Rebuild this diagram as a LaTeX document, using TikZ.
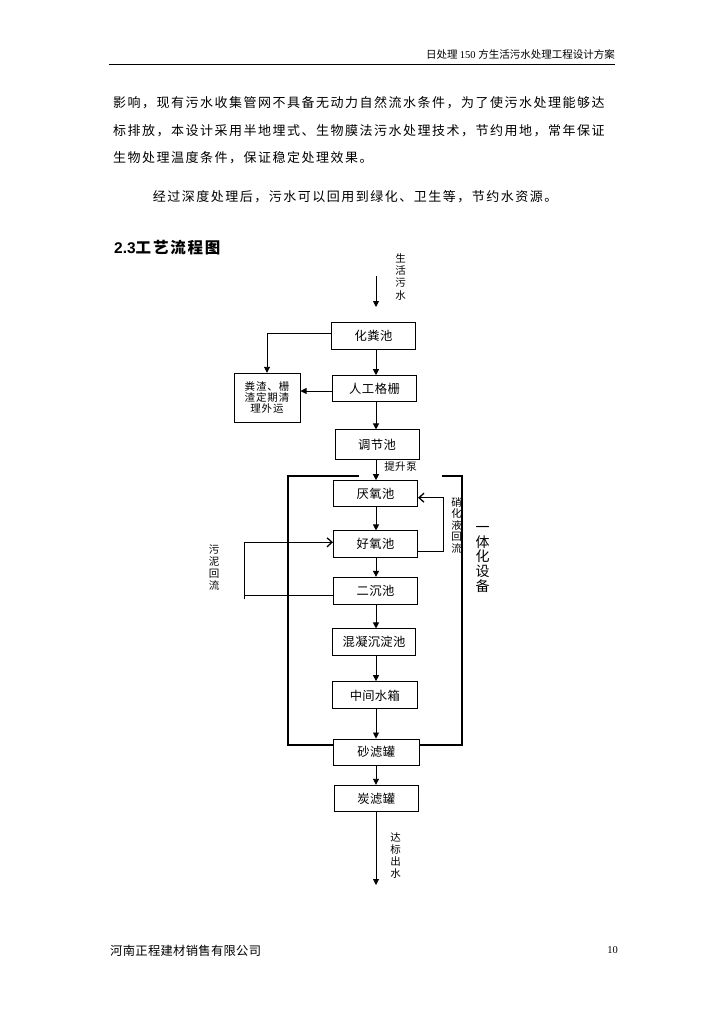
\documentclass[tikz,border=0pt]{standalone}
\usepackage{fontspec}
\setmainfont{Liberation Serif}
\newfontfamily\cjk{Noto Sans CJK SC}
\newfontfamily\arial{Liberation Sans}
\usetikzlibrary{arrows.meta,calc}
\newdimen\mylsamt
\def\myls#1#2{\mylsamt=#1\relax\mylsA#2\relax\unkern}
\def\mylsA#1{\ifx\relax#1\else#1\kern\mylsamt\expandafter\mylsA\fi}
\tikzset{
  box/.style={draw, line width=1pt, minimum width=84pt, minimum height=26.5pt, inner sep=0pt, font=\cjk\fontsize{12.3}{14}\selectfont},
  lab/.style={inner sep=0pt, align=center, font=\cjk\fontsize{10.5}{12}\selectfont},
  txt/.style={inner sep=0pt, anchor=west, font=\cjk\fontsize{13}{15}\selectfont},
  flow/.style={line width=0.9pt, -{Triangle[width=6pt,length=6pt]}},
  ret/.style={line width=0.9pt, -{Straight Barb[length=5pt,width=9pt,line width=1.3pt]}},
  plain/.style={line width=0.9pt},
  frame/.style={line width=1.8pt}
}
\begin{document}
\begin{tikzpicture}[x=1pt,y=-1pt]
\fill[white] (0,0) rectangle (724,1024);
\useasboundingbox (0,0) rectangle (724,1024);
% header and page text
\node[inner sep=0pt, anchor=base east] (hdr) at (615,59) {\fontsize{10.5}{12}\selectfont\cjk 日处理 \rmfamily 150 \cjk 方生活污水处理工程设计方案};
\coordinate (r1) at (109,65);
\coordinate (r2) at (615,65);
\draw[line width=1pt] (r1) -- (r2);
\node[txt] (l1) at (113,103) {\myls{1.5pt}{影响，现有污水收集管网不具备无动力自然流水条件，为了使污水处理能够达}};
\node[txt] (l2) at (113,130.5) {\myls{1.5pt}{标排放，本设计采用半地埋式、生物膜法污水处理技术，节约用地，常年保证}};
\node[txt] (l3) at (113,158) {\myls{1.5pt}{生物处理温度条件，保证稳定处理效果。}};
\node[txt] (l4) at (152.7,197) {\myls{1.5pt}{经过深度处理后，污水可以回用到绿化、卫生等，节约水资源。}};
\node[inner sep=0pt, anchor=west] (h23) at (114,247.5) {\fontsize{15.5}{18}\selectfont\arial\bfseries 2.3\cjk\bfseries\myls{1.8pt}{工艺流程图}};
\node[txt, font=\cjk\fontsize{12.3}{14}\selectfont] (ft) at (110,951) {\myls{0.3pt}{河南正程建材销售有限公司}};
\node[inner sep=0pt] (pg) at (612.5,950) {\fontsize{10.5}{12}\selectfont 10};
% flow boxes
\node[box] (hfc) at (373.5,336) {\myls{0.5pt}{化粪池}};
\node[box, minimum height=26pt] (rgg) at (374.5,388.7) {\myls{0.5pt}{人工格栅}};
\node[box, minimum width=66pt, minimum height=49.4pt, align=center, font=\cjk\fontsize{10.5}{11}\selectfont] (fz) at (267,398) {\myls{0.9pt}{粪渣、栅}\\\myls{0.9pt}{渣定期清}\\\myls{0.9pt}{理外运}};
\node[box, minimum height=29.3pt] (tjc) at (377,444.6) {\myls{0.5pt}{调节池}};
\node[box, minimum height=26pt] (yyc) at (375.5,493.7) {\myls{0.5pt}{厌氧池}};
\node[box, minimum height=26.7pt] (hyc) at (375.5,544.3) {\myls{0.5pt}{好氧池}};
\node[box, minimum height=26.7pt] (ecc) at (375.5,590.7) {\myls{0.5pt}{二沉池}};
\node[box, minimum width=83.4pt, minimum height=26.7pt] (hnc) at (374,642.3) {\myls{0.3pt}{混凝沉淀池}};
\node[box, minimum width=85pt, minimum height=27.3pt] (zjsx) at (374.8,695.3) {\myls{0.3pt}{中间水箱}};
\node[box, minimum width=86pt, minimum height=26pt] (slg) at (376.3,752) {\myls{0.5pt}{砂滤罐}};
\node[box, minimum width=84pt, minimum height=26.4pt] (tlg) at (376.3,798.5) {\myls{0.5pt}{炭滤罐}};
% labels
\node[lab, font=\cjk\fontsize{10.5}{12.3}\selectfont] (shws) at (400.5,276.7) {生\\活\\污\\水};
\node[lab] (tsb) at (400.5,466.5) {\myls{0.5pt}{提升泵}};
\node[lab, font=\cjk\fontsize{10.5}{11.5}\selectfont] (xh) at (456.7,525) {硝\\化\\液\\回\\流};
\node[lab] (wn) at (214,568) {污\\泥\\回\\流};
\node[lab, font=\cjk\fontsize{14}{14.75}\selectfont] (ytb) at (482.5,559.5) {一\\体\\化\\设\\备};
\node[lab] (dbcs) at (395.5,856) {达\\标\\出\\水};
% main flow
\coordinate (spine) at (376,0);
\coordinate (src) at (376,276);
\coordinate (srcend) at (376,307);
\coordinate (out) at (376,885);
\draw[flow] (src) -- (srcend);
\draw[flow] (hfc.south -| spine) -- (rgg.north -| spine);
\draw[flow] (rgg.south -| spine) -- (tjc.north -| spine);
\draw[flow] (tjc.south -| spine) -- (yyc.north -| spine);
\draw[flow] (yyc.south -| spine) -- (hyc.north -| spine);
\draw[flow] (hyc.south -| spine) -- (ecc.north -| spine);
\draw[flow] (ecc.south -| spine) -- (hnc.north -| spine);
\draw[flow] (hnc.south -| spine) -- (zjsx.north -| spine);
\draw[flow] (zjsx.south -| spine) -- (slg.north -| spine);
\draw[flow] (slg.south -| spine) -- (tlg.north -| spine);
\draw[flow] (tlg.south -| spine) -- (out);
% side outputs
\draw[flow] ([yshift=2.7pt]hfc.west) -| (fz.north);
\coordinate (g1) at ([yshift=-2.3pt]rgg.west);
\draw[flow] (g1) -- (g1 -| fz.east);
% integrated equipment frame
\coordinate (f1) at (359,476);
\coordinate (f2) at (288,476);
\coordinate (f3) at (288,745);
\coordinate (f4) at (462,745);
\coordinate (f5) at (462,476);
\coordinate (f6) at (442,476);
\draw[frame] (f1) -- (f2) -- (f3) -- (f3 -| slg.west);
\draw[frame] (slg.east |- f4) -- (f4) -- (f5) -- (f6);
% nitrification return
\coordinate (n0) at ([yshift=-7.4pt]hyc.east);
\coordinate (n1) at (443.3,497.7);
\draw[ret] (n0) -| (n1) -- (n1 -| yyc.east);
% sludge return
\coordinate (e1) at ([yshift=-4.3pt]ecc.west);
\coordinate (s1) at (244.3,599);
\coordinate (s2) at (244.3,542.3);
\draw[plain] (e1) -- (e1 -| s1);
\draw[ret] (s1) -- (s2) -- (s2 -| hyc.west);
\end{tikzpicture}
\end{document}
